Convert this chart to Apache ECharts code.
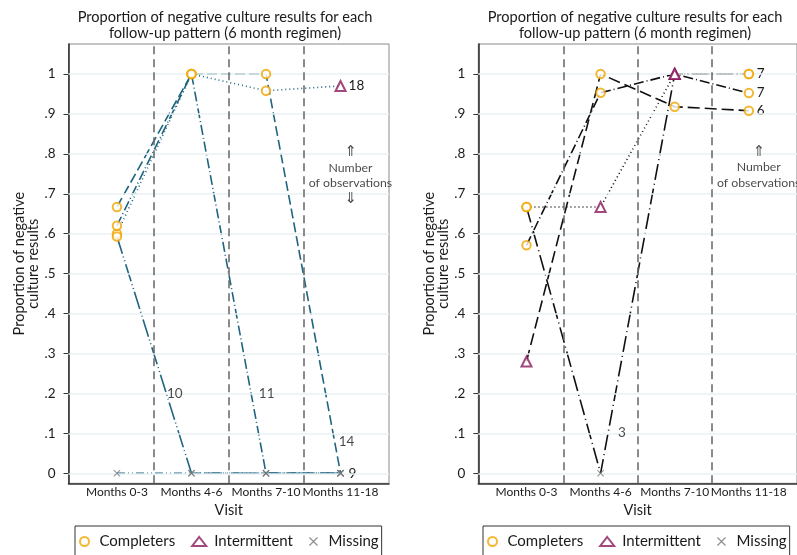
<!DOCTYPE html>
<html><head><meta charset="utf-8">
<script src="https://cdn.jsdelivr.net/npm/echarts@6/dist/echarts.min.js"></script>
<style>html,body{margin:0;padding:0;background:#fff}#c{width:797px;height:555px}</style>
</head><body><div id="c"></div>
<script>
// ---- data ----
const categories = ['Months 0-3', 'Months 4-6', 'Months 7-10', 'Months 11-18'];
const yTicks = [0, 0.1, 0.2, 0.3, 0.4, 0.5, 0.6, 0.7, 0.8, 0.9, 1];
const yTickLabels = ['0', '.1', '.2', '.3', '.4', '.5', '.6', '.7', '.8', '.9', '1'];
const separators = [1.5, 2.5, 3.5];
const titleLines = ['Proportion of negative culture results for each', 'follow-up pattern (6 month regimen)'];

// left panel: proportion by visit for each follow-up pattern (C=completer, I=intermittent, X=missing)
const left18 = [0.60, 1.00, 0.958, 0.97];
const left18Marks = ['C', 'C', 'C', 'I'];
const left14 = [0.667, 1.00, 1.00, 0.00];
const left14Marks = ['C', 'C', 'C', 'X'];
const left11 = [0.62, 1.00, 0.00, 0.00];
const left11Marks = ['C', 'C', 'X', 'X'];
const left10 = [0.593, 0.00, 0.00, 0.00];
const left10Marks = ['C', 'X', 'X', 'X'];
const left9 = [0.00, 0.00, 0.00, 0.00];
const left9Marks = ['X', 'X', 'X', 'X'];
const leftCounts = ['18', '14', '11', '10', '9'];

// right panel
const rightA = [0.667, 0.667, 1.00, 1.00];
const rightAMarks = ['C', 'I', 'I', 'C'];
const rightB = [0.571, 0.953, 1.00, 0.952];
const rightBMarks = ['C', 'C', 'I', 'C'];
const rightC = [0.28, 1.00, 0.918, 0.908];
const rightCMarks = ['I', 'C', 'C', 'C'];
const rightD = [0.667, 0.00, 1.00, 1.00];
const rightDMarks = ['C', 'X', 'I', 'C'];
const rightCounts = ['7', '7', '6', '3'];

// annotation anchors (data coordinates) for counts not at a line end
const leftMidLabels = [[4.08, 0.079, '14'], [3.009, 0.2, '11'], [1.777, 0.199, '10']];
const rightMidLabels = [[2.289, 0.102, '3']];

// ---- styles ----
const FONT = 'Lato, "DejaVu Sans", sans-serif';
const ORANGE = '#f0a500', PURPLE = '#8b1a5e', GRAYX = '#777777';
const TEAL = '#1f6580';
const XPATH = 'path://M0,1L1,0L5,4L9,0L10,1L6,5L10,9L9,10L5,6L1,10L0,9L4,5Z';
const TXT = '#1a1a1a';

const series = [];
const grids = [], xAxes = [], yAxes = [];

function buildPanel(pi, gridLeft, lines, midLabels, color, noteLines) {
  grids.push({left: gridLeft, top: 44, width: 320.5, height: 439.3, show: true,
    borderColor: '#8a8a8a', borderWidth: 1, backgroundColor: '#fff', containLabel: false});
  xAxes.push({type: 'value', gridIndex: pi, min: 0.35, max: 4.65,
    axisLine: {show: true, onZero: false, lineStyle: {color: '#333', width: 1.6}},
    axisTick: {show: false}, splitLine: {show: false},
    axisLabel: {customValues: [1, 2, 3, 4], formatter: v => categories[Math.round(v) - 1],
      margin: 3, fontSize: 12, color: TXT, fontFamily: FONT, hideOverlap: false,
      showMinLabel: true, showMaxLabel: true},
    name: 'Visit', nameLocation: 'middle', nameGap: 16,
    nameTextStyle: {fontSize: 14.5, color: TXT, fontFamily: FONT, verticalAlign: 'top'}});
  yAxes.push({type: 'value', gridIndex: pi, min: -0.025, max: 1.075,
    axisLine: {show: true, onZero: false, lineStyle: {color: '#333', width: 1.6}},
    axisTick: {show: true, customValues: yTicks, length: 5, lineStyle: {color: '#333', width: 1}},
    splitLine: {show: false},
    axisLabel: {customValues: yTicks, formatter: v => yTickLabels[Math.round(v * 10)],
      margin: 13, fontSize: 13.5, color: TXT, fontFamily: FONT},
    name: 'Proportion of negative\nculture results', nameLocation: 'middle', nameGap: 18,
    nameRotate: 90,
    nameTextStyle: {fontSize: 14.5, color: TXT, fontFamily: FONT, lineHeight: 14}});

  // gridlines + separators
  series.push({type: 'line', xAxisIndex: pi, yAxisIndex: pi, data: [], silent: true, z: 1,
    markLine: {silent: true, symbol: ['none', 'none'], label: {show: false}, animation: false,
      lineStyle: {color: '#eaf2f3', width: 1.5, type: 'solid'},
      data: yTicks.map(v => ({yAxis: v}))}});
  series.push({type: 'line', xAxisIndex: pi, yAxisIndex: pi, data: [], silent: true, z: 3,
    markLine: {silent: true, symbol: ['none', 'none'], label: {show: false}, animation: false,
      lineStyle: {color: '#666', width: 1.5, type: [8, 5]},
      data: separators.map(v => ({xAxis: v}))}});

  const C = [], I = [], X = [];
  lines.forEach(ln => {
    series.push({type: 'line', name: ln.name, xAxisIndex: pi, yAxisIndex: pi,
      data: ln.values.map((v, i) => [i + 1, v]), symbol: 'none', z: 4,
      lineStyle: {color: color, width: 1.6, type: ln.dash},
      endLabel: ln.count ? {show: true, formatter: ln.count, distance: 8, fontSize: 13.5,
        color: TXT, fontFamily: FONT} : {show: false}});
    ln.marks.forEach((m, i) => {
      const p = [i + 1, ln.values[i]];
      (m === 'C' ? C : m === 'I' ? I : X).push(p);
    });
  });
  series.push({type: 'scatter', name: 'Completers', xAxisIndex: pi, yAxisIndex: pi, data: C,
    symbol: 'emptyCircle', symbolSize: 8.5, z: 6,
    itemStyle: {color: ORANGE, borderColor: ORANGE, borderWidth: 1.4}});
  series.push({type: 'scatter', name: 'Intermittent', xAxisIndex: pi, yAxisIndex: pi, data: I,
    symbol: 'emptyTriangle', symbolSize: 10, z: 6,
    itemStyle: {color: PURPLE, borderColor: PURPLE, borderWidth: 1.5}});
  series.push({type: 'scatter', name: 'Missing', xAxisIndex: pi, yAxisIndex: pi, data: X,
    symbol: XPATH, symbolSize: 7, z: 6, itemStyle: {color: GRAYX}});

  series.push({type: 'scatter', xAxisIndex: pi, yAxisIndex: pi, silent: true, z: 7,
    data: midLabels.map(d => ({value: [d[0], d[1]], name: d[2]})), symbolSize: 0,
    label: {show: true, position: 'inside', formatter: p => p.name, fontSize: 13.5,
      color: TXT, fontFamily: FONT}});
  series.push({type: 'scatter', xAxisIndex: pi, yAxisIndex: pi, silent: true, z: 7,
    data: [{value: noteLines.pos, name: 'note'}], symbolSize: 0,
    label: {show: true, position: 'inside',
      formatter: noteLines.text.map(t => (t === '⇑' || t === '⇓') ? '{a|' + t + '}' : t).join('\n'),
      fontSize: 12.3, lineHeight: 15.5, color: TXT, fontFamily: FONT, align: 'center',
      rich: {a: {fontSize: 15, lineHeight: 15.5, fontFamily: '"DejaVu Sans", sans-serif', color: TXT}}}});
}

buildPanel(0, 68.5, [
  {name: 'p18', values: left18, marks: left18Marks, dash: [1, 3], count: leftCounts[0]},
  {name: 'p14', values: left14, marks: left14Marks, dash: [10, 4], count: null},
  {name: 'p11', values: left11, marks: left11Marks, dash: [10, 3, 1, 3], count: null},
  {name: 'p10', values: left10, marks: left10Marks, dash: [18, 3, 1, 3, 1, 3], count: null},
  {name: 'p9', values: left9, marks: left9Marks, dash: [8, 3, 1, 3, 1, 3], count: leftCounts[4]}
], leftMidLabels, TEAL, {pos: [4.133, 0.746], text: ['⇑', 'Number', 'of observations', '⇓']});

buildPanel(1, 478.3, [
  {name: 'pa', values: rightA, marks: rightAMarks, dash: [1, 3], count: rightCounts[0]},
  {name: 'pb', values: rightB, marks: rightBMarks, dash: [10, 3, 1, 3], count: rightCounts[1]},
  {name: 'pc', values: rightC, marks: rightCMarks, dash: [12, 5], count: rightCounts[2]},
  {name: 'pd', values: rightD, marks: rightDMarks, dash: [16, 4, 1, 4], count: null}
], rightMidLabels, '#111', {pos: [4.133, 0.766], text: ['⇑', 'Number', 'of observations']});

const legendBase = {data: ['Completers', 'Intermittent', 'Missing'], orient: 'horizontal',
  top: 526, itemWidth: 14, itemHeight: 9, itemGap: 16, borderColor: '#333', borderWidth: 1,
  padding: [8, 3, 24, 4], backgroundColor: '#fff',
  textStyle: {fontSize: 15, color: TXT, fontFamily: FONT, padding: [0, 0, 0, 3]}};

const option = {
  animation: false,
  backgroundColor: '#fff',
  grid: grids, xAxis: xAxes, yAxis: yAxes,
  legend: [Object.assign({left: 75}, legendBase), Object.assign({left: 483, right: -60}, legendBase)],
  graphic: [
    {type: 'text', x: 225, y: 17, style: {text: titleLines[0], font: '14.6px ' + FONT, fill: TXT, textAlign: 'center', textVerticalAlign: 'middle'}},
    {type: 'text', x: 225, y: 33, style: {text: titleLines[1], font: '14.6px ' + FONT, fill: TXT, textAlign: 'center', textVerticalAlign: 'middle'}},
    {type: 'text', x: 635, y: 17, style: {text: titleLines[0], font: '14.6px ' + FONT, fill: TXT, textAlign: 'center', textVerticalAlign: 'middle'}},
    {type: 'text', x: 635, y: 33, style: {text: titleLines[1], font: '14.6px ' + FONT, fill: TXT, textAlign: 'center', textVerticalAlign: 'middle'}}
  ],
  series: series
};
const chart = echarts.init(document.getElementById('c'), null, {renderer: 'canvas'});
chart.setOption(option);
</script></body></html>
